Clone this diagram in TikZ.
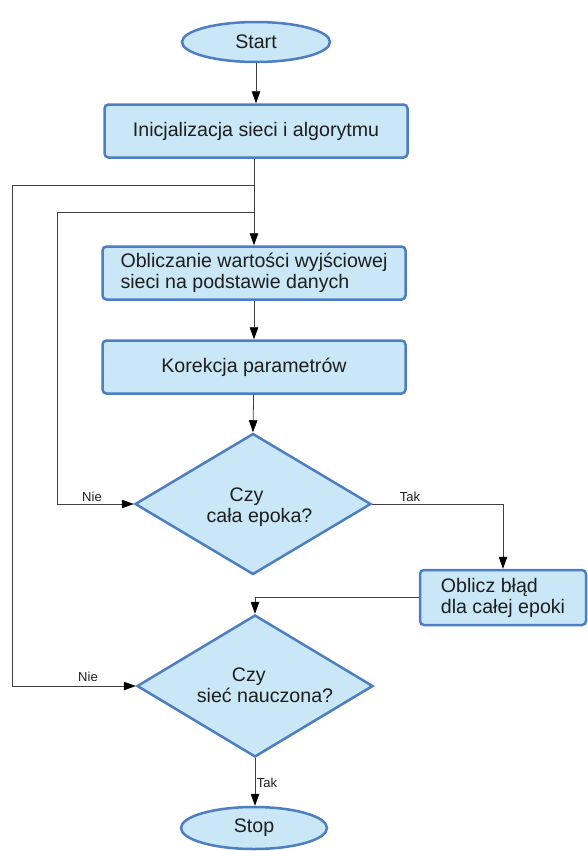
\documentclass[tikz,border=0pt]{standalone}
\usepackage{fontspec}
\setmainfont{Liberation Sans}
\usetikzlibrary{shapes.geometric,arrows.meta}
\definecolor{boxfill}{HTML}{C9E7F6}
\definecolor{boxline}{HTML}{4E7EC2}
\definecolor{wire}{HTML}{404040}
\definecolor{ink}{HTML}{1E1E1E}
\begin{document}
\begin{tikzpicture}[x=1pt,y=-1pt,
  every node/.style={font=\fontsize{19.6}{21}\selectfont, text=ink},
  terminal/.style={ellipse, draw=boxline, fill=boxfill, line width=2.5pt,
    minimum width=148pt, minimum height=40pt, inner sep=0pt},
  process/.style={rectangle, rounded corners=4pt, draw=boxline, fill=boxfill,
    line width=2.5pt, minimum width=303pt, minimum height=53pt, inner sep=0pt},
  decision/.style={diamond, draw=boxline, fill=boxfill, line width=2.5pt,
    minimum width=236pt, minimum height=141pt, inner sep=0pt, aspect=1.67},
  flow/.style={draw=wire, line width=0.8pt,
    -{Triangle[length=12pt,width=8.5pt,color=black]}},
  tag/.style={font=\fontsize{13}{15}\selectfont}
]
\useasboundingbox (0,0) rectangle (588,851);

% main column
\node[terminal] (start) at (256,42) {Start};
\node[process] (init) at (256,131) {Inicjalizacja sieci i algorytmu};
\node[process, align=left] (calc) at (254,273)
  {Obliczanie wartości wyjściowej\\sieci na podstawie danych};
\node[process] (fix) at (254,367) {Korekcja parametrów};
\node[decision] (epoch) at (253,504) {};
\node[align=left] (epochtext) at (259.5,507) {\hspace*{23pt}Czy\\cała epoka?};
\node[process, minimum width=166pt, minimum height=55pt, align=left] (err)
  at (503,597.5) {Oblicz błąd\\dla całej epoki};
\node[decision, minimum height=142pt] (done) at (255,686) {};
\node[align=left] (donetext) at (265,685) {\hspace*{35pt}Czy\\sieć nauczona?};
\node[terminal, minimum width=146pt, minimum height=42pt] (stop) at (254,828) {Stop};

% loop-back points
\coordinate (jouter) at (254,185);
\coordinate (jinner) at (254,212);
\coordinate (outer) at (12,185);
\coordinate (inner) at (57,212);

% connectors
\draw[flow] (start) -- (init.north -| start);
\draw[flow] (init.south -| calc.north) -- (calc.north);
\draw[flow] (calc) -- (fix);
\draw[flow] (fix) -- (epoch.north);
\draw[flow] (jinner) -- (inner) |- (epoch.west);
\draw[flow] (jouter) -- (outer) |- (done.west);
\draw[flow] (epoch.east) -| (err.north);
\draw[flow] (err.west) -| (done.north);
\draw[flow] (done.south) -- (stop.north -| done.south);

% branch labels
\node[tag] (nieA) at (92,497) {Nie};
\node[tag] (takA) at (410,497) {Tak};
\node[tag] (nieB) at (88,677) {Nie};
\node[tag] (takB) at (267,783) {Tak};
\end{tikzpicture}
\end{document}
